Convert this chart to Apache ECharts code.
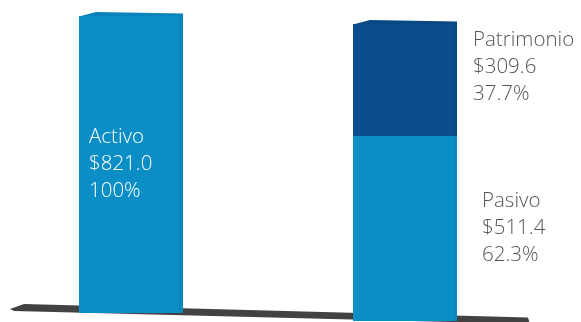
<!DOCTYPE html>
<html><head><meta charset="utf-8">
<script src="https://cdn.jsdelivr.net/npm/echarts@6/dist/echarts.min.js"></script>
<style>html,body{margin:0;padding:0;background:#fff}#c{width:581px;height:322px}</style>
</head><body><div id="c"></div><script>
const categories = ['Activo', 'Pasivo y Patrimonio'];
const segmentNames = ['Activo', 'Pasivo', 'Patrimonio'];
const segmentValues = [821.0, 511.4, 309.6];
const segmentPercents = ['100%', '62.3%', '37.7%'];
const segmentCategory = [0, 1, 1];

const BAR_W = 104;
const SLOPE = 8 / 274;
const styles = [
  {front:'#0b8dc6', top:'#0a83ba', side:'#0a87bf', text:'#ffffff', dx:10, dy:108, inside:true},
  {front:'#0b8dc6', top:'#0a83ba', side:'#0a87bf', text:'#555555', dx:25, dy:52, inside:false},
  {front:'#0b4e8e', top:'#0a4883', side:'#0a4b89', text:'#555555', dx:16, dy:3, inside:false}
];

// stacking
const starts = [], ends = [], totals = categories.map(() => 0);
segmentValues.forEach((v, i) => {
  const c = segmentCategory[i];
  starts.push(totals[c]); totals[c] += v; ends.push(totals[c]);
});
const isTop = segmentValues.map((v, i) => ends[i] === totals[segmentCategory[i]]);

function makeRender(k) {
  return function (params, api) {
    const ci = api.value(0), v0 = api.value(1), v1 = api.value(2);
    const pb = api.coord([ci, v0]), pt = api.coord([ci, v1]);
    const refX = api.coord([0, 0])[0];
    const tilt = SLOPE * (pb[0] - refX);
    const x = pb[0] - BAR_W / 2, yb = pb[1] + tilt, yt = pt[1] + tilt;
    const st = styles[k];
    const children = [
      {type:'rect', shape:{x:x, y:yt, width:BAR_W, height:yb - yt}, style:{fill:st.front}},
      {type:'rect', shape:{x:x + BAR_W - 4, y:yt, width:4, height:yb - yt}, style:{fill:st.side}}
    ];
    if (isTop[k]) {
      children.push({type:'polygon', shape:{points:[[x, yt + 0.5], [x + 17, yt - 4], [x + BAR_W, yt - 2.5], [x + BAR_W, yt + 0.5]]}, style:{fill:st.top}});
    }
    const txt = segmentNames[k] + '\n$' + segmentValues[k].toFixed(1) + '\n' + segmentPercents[k];
    children.push({type:'text', x: st.inside ? x + st.dx : x + BAR_W + st.dx, y: yt + st.dy,
      style:{text:txt, fill:st.text, fontSize:20.5, fontWeight:300, fontFamily:'Open Sans', lineHeight:27, verticalAlign:'top'}});
    return {type:'group', children:children};
  };
}

const series = segmentValues.map((v, k) => ({
  type:'custom', name:segmentNames[k], renderItem:makeRender(k),
  data:[[segmentCategory[k], starts[k], ends[k]]], z:5, silent:true
}));

const chart = echarts.init(document.getElementById('c'));
chart.setOption({
  animation:false,
  grid:{left:131, right:176, top:16, bottom:9},
  xAxis:{type:'category', data:categories, boundaryGap:false, show:false},
  yAxis:{type:'value', min:0, max:Math.max(...totals), show:false},
  graphic:[{type:'polygon', z:0, shape:{points:[[10,309],[24,304],[528,317.5],[530,324],[14,311]]}, style:{fill:'#424242'}}],
  series:series
});
</script></body></html>
